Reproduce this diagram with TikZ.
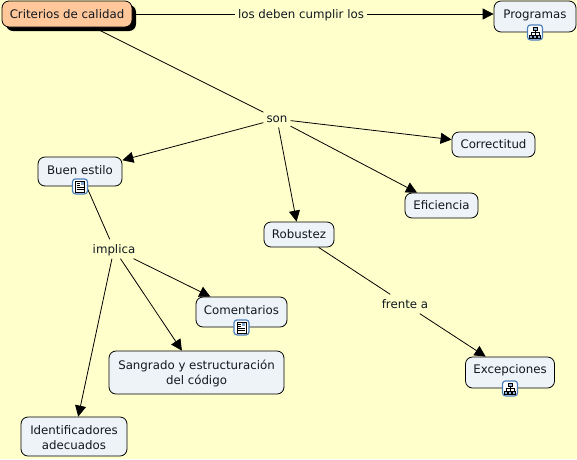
\documentclass[tikz,border=0pt]{standalone}
\usepackage{fontspec}
\setmainfont{DejaVu Sans}
\usetikzlibrary{arrows.meta,shadows}
\definecolor{bgc}{HTML}{FFFFCC}
\definecolor{boxc}{HTML}{EEF3F8}
\definecolor{rootc}{HTML}{FFC79A}
\definecolor{iconb}{HTML}{4A7FBC}
\definecolor{txt}{HTML}{101820}
\tikzset{
  x=1pt,y=-1pt,
  concept/.style={draw=black,line width=0.8pt,rounded corners=7pt,fill=boxc,inner sep=0pt,align=center,font=\fontsize{11.8}{15}\selectfont,text=txt},
  rootbox/.style={concept,fill=rootc,drop shadow={shadow xshift=4pt,shadow yshift=-4pt,fill=black,opacity=1}},
  linklab/.style={inner xsep=3pt,inner ysep=5pt,text depth=0pt,font=\fontsize{11.8}{15}\selectfont,text=txt},
  conn/.style={draw=black,line width=0.8pt},
  arr/.style={conn,-{Triangle[length=11pt,width=11pt]}},
  iconbox/.style={draw=iconb,line width=1.2pt,rounded corners=3pt,fill=white,minimum size=15pt,inner sep=0pt},
  glyph/.style={line width=0.7pt,draw=black}
}
\newcommand{\docicon}[1]{%
  \node[iconbox] (#1i) at (#1.south) {};
  \draw[glyph,fill=white] ([shift={(-4.5,-5.5)}]#1i.center) rectangle ([shift={(4.5,5.5)}]#1i.center);
  \fill[iconb!70] ([shift={(0.5,-4.5)}]#1i.center) rectangle ([shift={(3.5,-1.5)}]#1i.center);
  \foreach \yy in {-3,-1,1,3}{\draw[line width=0.6pt] ([shift={(-3.5,\yy)}]#1i.center) -- ([shift={(\ifnum\yy<0 -0.5\else 3.5\fi,\yy)}]#1i.center);}
}
\newcommand{\mapicon}[1]{%
  \node[iconbox] (#1i) at (#1.south) {};
  \draw[line width=0.6pt] ([shift={(0,-3)}]#1i.center) -- ([shift={(0,3)}]#1i.center)
     ([shift={(-4,3)}]#1i.center) -- ([shift={(-4,0)}]#1i.center) -- ([shift={(4,0)}]#1i.center) -- ([shift={(4,3)}]#1i.center);
  \draw[line width=0.5pt,fill=iconb!60] ([shift={(-2,-5.5)}]#1i.center) rectangle ([shift={(2,-2.5)}]#1i.center);
  \foreach \xx in {-4,0,4}{\draw[line width=0.5pt,fill=iconb!60] ([shift={(\xx-1.5,2.5)}]#1i.center) rectangle ([shift={(\xx+1.5,5.5)}]#1i.center);}
}
\begin{document}
\begin{tikzpicture}
\path[use as bounding box,fill=bgc] (0,0) rectangle (577,459);
% nodes
\node[rootbox,minimum width=130pt,minimum height=26pt] (crit) at (67,14) {Criterios de calidad};
\node[concept,minimum width=82pt,minimum height=31pt,text depth=5pt] (prog) at (535,16.5) {Programas};
\node[concept,minimum width=84pt,minimum height=29pt,text depth=2pt] (buen) at (80,171.5) {Buen estilo};
\node[concept,minimum width=83pt,minimum height=25pt,text depth=0pt] (corr) at (493.5,144.5) {Correctitud};
\node[concept,minimum width=73pt,minimum height=25pt,text depth=0pt] (efic) at (441.5,205.5) {Eficiencia};
\node[concept,minimum width=70pt,minimum height=25pt,text depth=0pt] (robu) at (299,234.5) {Robustez};
\node[concept,minimum width=91pt,minimum height=30pt,text depth=3pt] (come) at (241.5,312) {Comentarios};
\node[concept,minimum width=175pt,minimum height=43pt] (sang) at (196.5,372.5) {\rule{0pt}{12pt}Sangrado y estructuración\\del código};
\node[concept,minimum width=106pt,minimum height=39pt] (iden) at (74,436.5) {\rule{0pt}{11pt}Identificadores\\adecuados};
\node[concept,minimum width=89pt,minimum height=31pt,text depth=7pt] (exce) at (510,372.5) {Excepciones};
\node[linklab] (los) at (301,14) {los deben cumplir los};
\node[linklab] (son) at (277,119) {son};
\node[linklab] (impl) at (114,249) {implica};
\node[linklab] (fren) at (405,304) {frente a};
% connectors
\draw[conn] (crit) -- (los);
\draw[arr] (los) -- (prog.west |- los);
\draw[conn] (crit) -- (son);
\draw[arr] (son) -- (buen);
\draw[arr] (son) -- (corr);
\draw[arr] (son) -- (efic);
\draw[arr] (son) -- (robu);
\draw[conn] (buen) -- (impl);
\draw[arr] (impl) -- (come);
\draw[arr] (impl) -- (sang);
\draw[arr] (impl) -- (iden);
\draw[conn] (robu) -- (fren);
\draw[arr] (fren) -- (exce);
% icons
\mapicon{prog}
\docicon{buen}
\docicon{come}
\mapicon{exce}
\end{tikzpicture}
\end{document}
